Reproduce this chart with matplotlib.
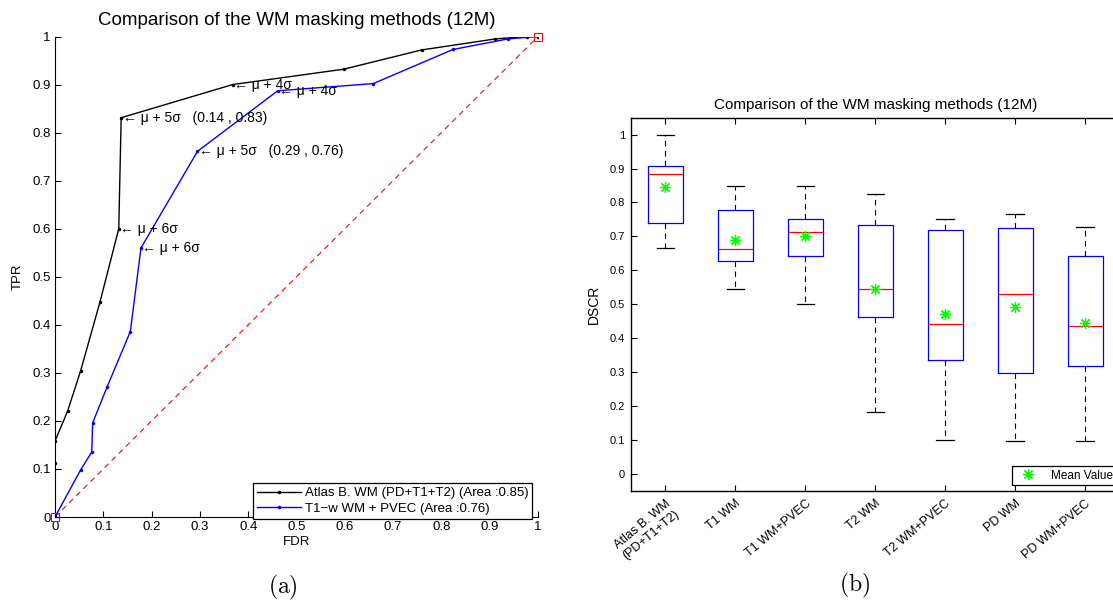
import matplotlib
matplotlib.use('Agg')
import matplotlib.pyplot as plt
import numpy as np

plt.rcParams['font.family'] = ['Liberation Sans', 'DejaVu Sans']
plt.rcParams['mathtext.fontset'] = 'cm'

# ROC curves (panel a)
atlas_fdr = [0.0, 0.0, 0.0, 0.026, 0.053, 0.093, 0.132, 0.137, 0.368, 0.598, 0.759, 0.912, 0.978, 1.0]
atlas_tpr = [0.0, 0.113, 0.158, 0.22, 0.304, 0.447, 0.60, 0.831, 0.90, 0.932, 0.972, 0.995, 1.0, 1.0]
pvec_fdr = [0.0, 0.053, 0.076, 0.078, 0.108, 0.156, 0.178, 0.295, 0.461, 0.659, 0.824, 0.938, 1.0]
pvec_tpr = [0.0, 0.098, 0.135, 0.196, 0.271, 0.386, 0.560, 0.761, 0.887, 0.902, 0.973, 0.995, 1.0]

# threshold annotations: (fdr, tpr, text)
notas = [
    (0.368, 0.90, '\u2190 \u03bc + 4\u03c3'),
    (0.461, 0.887, '\u2190 \u03bc + 4\u03c3'),
    (0.137, 0.831, '\u2190 \u03bc + 5\u03c3   (0.14 , 0.83)'),
    (0.295, 0.761, '\u2190 \u03bc + 5\u03c3   (0.29 , 0.76)'),
    (0.132, 0.60, '\u2190 \u03bc + 6\u03c3'),
    (0.178, 0.560, '\u2190 \u03bc + 6\u03c3'),
]

# Box plot statistics (panel b)
metodos = ['Atlas B. WM\n(PD+T1+T2)', 'T1 WM', 'T1 WM+PVEC', 'T2 WM', 'T2 WM+PVEC', 'PD WM', 'PD WM+PVEC']
whis_hi = [1.0, 0.849, 0.849, 0.824, 0.750, 0.765, 0.727]
q3 = [0.909, 0.778, 0.750, 0.734, 0.720, 0.726, 0.643]
medianas = [0.884, 0.662, 0.713, 0.544, 0.441, 0.530, 0.436]
q1 = [0.739, 0.626, 0.641, 0.462, 0.334, 0.298, 0.319]
whis_lo = [0.667, 0.546, 0.500, 0.182, 0.100, 0.096, 0.096]
medias = [0.847, 0.689, 0.702, 0.545, 0.472, 0.491, 0.444]

W, H = 1113, 601
fig = plt.figure(figsize=(W / 100, H / 100), dpi=100)

# ---------- panel (a) ----------
ax1 = fig.add_axes([55 / W, 1 - 517 / H, 483 / W, 480.5 / H])
ax1.plot([0, 1], [0, 1], '--', color='red', lw=0.8, dashes=(5, 4))
ax1.plot(atlas_fdr, atlas_tpr, '-', color='black', marker='.', ms=3, lw=1.0,
         label='Atlas B. WM (PD+T1+T2) (Area :0.85)')
ax1.plot(pvec_fdr, pvec_tpr, '-', color='blue', marker='.', ms=3, lw=1.0,
         label='T1\u2212w WM + PVEC (Area :0.76)')
ax1.plot([0, 1], [0, 1], 's', color='red', mfc='none', ms=6, mew=0.8, clip_on=False, zorder=5)

for fx, ty, txt in notas:
    ax1.annotate(txt, (fx, ty), xytext=(1, 0), textcoords='offset points',
                 ha='left', va='center', fontsize=10)

ax1.set_xlim(0, 1)
ax1.set_ylim(0, 1)
ax1.set_xticks(np.arange(0, 1.01, 0.1))
ax1.set_yticks(np.arange(0, 1.01, 0.1))
ax1.set_xticklabels(['0', '0.1', '0.2', '0.3', '0.4', '0.5', '0.6', '0.7', '0.8', '0.9', '1'])
ax1.set_yticklabels(['0', '0.1', '0.2', '0.3', '0.4', '0.5', '0.6', '0.7', '0.8', '0.9', '1'])
ax1.tick_params(direction='in', length=4, width=0.8, labelsize=9.5, pad=3)
for s in ['top', 'right']:
    ax1.spines[s].set_visible(False)
for s in ['left', 'bottom']:
    ax1.spines[s].set_linewidth(0.8)
ax1.set_xlabel('FDR', fontsize=9.5, labelpad=2)
ax1.set_ylabel('TPR', fontsize=9.5, labelpad=6)
ax1.set_title('Comparison of the WM masking methods (12M)', fontsize=13.5, pad=8)
leg1 = ax1.legend(loc='lower right', bbox_to_anchor=(0.988, -0.004), borderaxespad=0,
                  fontsize=9.5, fancybox=False, framealpha=1, edgecolor='black',
                  handlelength=3.3, handletextpad=0.3, borderpad=0.3, labelspacing=0.25)
leg1.get_frame().set_linewidth(0.9)

fig.text(283 / W, 1 - 587 / H, r'$\mathrm{(a)}$', fontsize=17, ha='center', va='center')

# ---------- panel (b) ----------
ax2 = fig.add_axes([630.5 / W, 1 - 490.7 / H, 489.5 / W, 373 / H])
stats = []
for i in range(len(metodos)):
    stats.append({'med': medianas[i], 'q1': q1[i], 'q3': q3[i],
                  'whislo': whis_lo[i], 'whishi': whis_hi[i], 'mean': medias[i],
                  'fliers': []})
pos = np.arange(1, len(metodos) + 1)
ax2.bxp(stats, positions=pos, widths=0.5, showmeans=False, showfliers=False, capwidths=0.25,
        boxprops=dict(color='blue', lw=0.9),
        medianprops=dict(color='red', lw=0.9),
        whiskerprops=dict(color='black', lw=0.8, linestyle=(0, (5, 4))),
        capprops=dict(color='black', lw=0.9))
ax2.plot(pos, medias, linestyle='none', marker=(8, 2, 0), ms=8, mew=0.9,
         color='#00ff00', label='Mean Value', zorder=5)

ax2.set_xlim(0.5, len(metodos) + 0.5)
ax2.set_ylim(-0.05, 1.05)
ax2.set_yticks(np.arange(0, 1.01, 0.1))
ax2.set_yticklabels(['0', '0.1', '0.2', '0.3', '0.4', '0.5', '0.6', '0.7', '0.8', '0.9', '1'])
ax2.set_xticks(pos)
ax2.set_xticklabels(metodos, rotation=40, ha='right', va='top', rotation_mode='anchor',
                    fontsize=9, multialignment='center')
ax2.tick_params(axis='y', direction='in', length=4, width=0.8, labelsize=8, pad=4)
ax2.tick_params(axis='x', direction='in', length=4, width=0.8, pad=5, top=True)
for s in ax2.spines.values():
    s.set_linewidth(1.0)
ax2.set_ylabel('DSCR', fontsize=10, labelpad=6)
ax2.set_title('Comparison of the WM masking methods (12M)', fontsize=11, pad=6)
leg2 = ax2.legend(loc='lower right', bbox_to_anchor=(0.992, 0.015), borderaxespad=0,
                  fontsize=8.5, fancybox=False, framealpha=1, edgecolor='black',
                  handlelength=2.2, handletextpad=0.8, borderpad=0.3)
leg2.get_frame().set_linewidth(0.9)

fig.text(855 / W, 1 - 585 / H, r'$\mathrm{(b)}$', fontsize=17, ha='center', va='center')

fig.savefig('out.png', dpi=100)
